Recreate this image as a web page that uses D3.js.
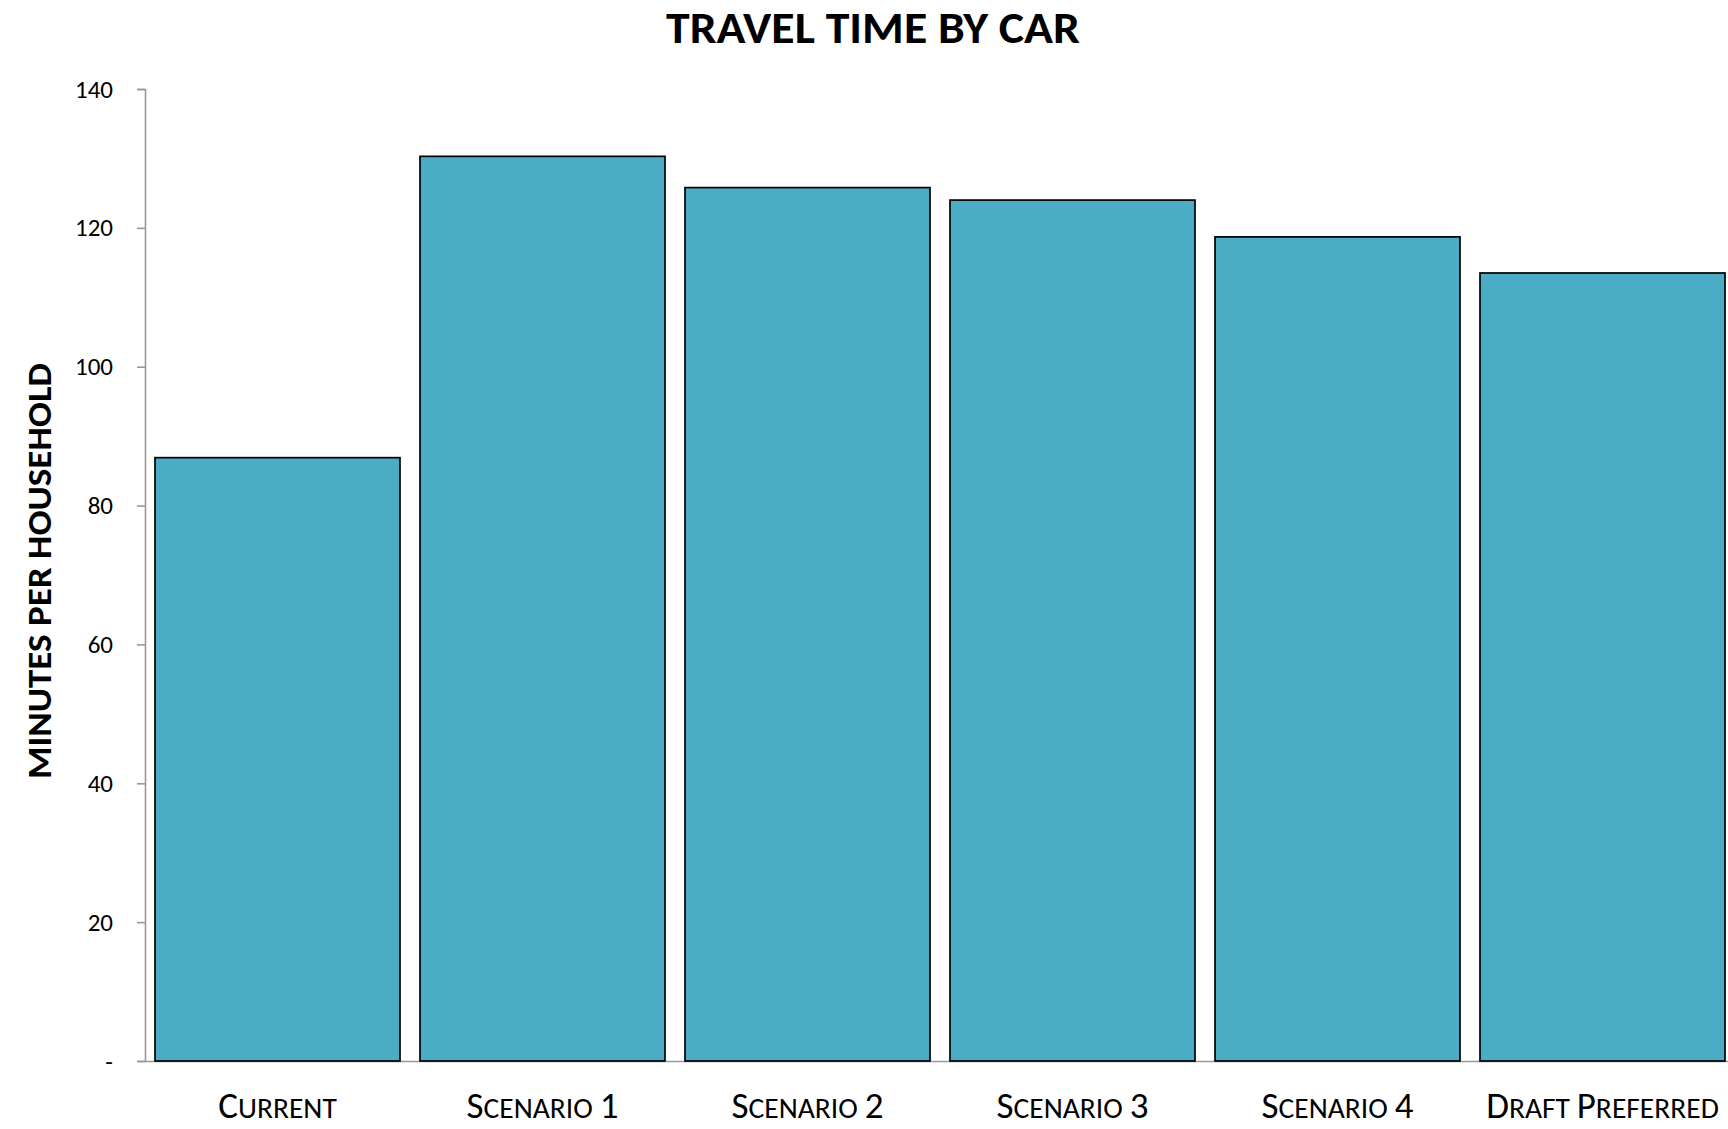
<!DOCTYPE html>
<html>
<head>
<meta charset="utf-8">
<script src="https://cdn.jsdelivr.net/npm/d3@7"></script>
<style>
  html, body { margin: 0; padding: 0; background: #fff; }
  svg { display: block; }
  text { font-family: Carlito, "Open Sans", sans-serif; fill: #000; }
</style>
</head>
<body>
<svg id="chart" width="1728" height="1129"></svg>
<script>
// Household car travel time per scenario
const categories = ["Current", "Scenario 1", "Scenario 2", "Scenario 3", "Scenario 4", "Draft Preferred"];
const minutesPerHousehold = [86.9, 130.3, 125.8, 124.0, 118.7, 113.5];
const yTicks = [0, 20, 40, 60, 80, 100, 120, 140];

const svg = d3.select("#chart");
const W = 1728, H = 1129;
const margin = { top: 89, right: -7, bottom: 68, left: 145 };
const innerW = W - margin.left - margin.right;
const innerH = H - margin.top - margin.bottom;

const g = svg.append("g").attr("transform", `translate(${margin.left},${margin.top})`);

const x = d3.scaleBand()
  .domain(categories)
  .range([0, innerW])
  .paddingInner(20 / 265)
  .paddingOuter(10 / 265);

const y = d3.scaleLinear().domain([0, 140]).range([innerH, 0]);

// y axis
const yAxis = g.append("g")
  .call(d3.axisLeft(y).tickValues(yTicks).tickSize(8).tickPadding(24)
    .tickFormat(d => d === 0 ? "-" : d3.format("d")(d)));
yAxis.select(".domain").attr("stroke", "#999").attr("stroke-width", 1.6);
yAxis.selectAll(".tick line").attr("stroke", "#999").attr("stroke-width", 1.6);
yAxis.selectAll(".tick text")
  .attr("font-size", 25)
  .style("font-family", 'Carlito, "Open Sans", sans-serif')
  .attr("fill", "#000");

// x axis baseline
const xAxis = g.append("g")
  .attr("transform", `translate(0,${innerH})`)
  .call(d3.axisBottom(x).tickSize(0).tickPadding(0).tickFormat(""));
xAxis.select(".domain").attr("stroke", "#999").attr("stroke-width", 1.6);

// bars
g.selectAll("rect.bar")
  .data(categories.map((c, i) => ({ c, v: minutesPerHousehold[i] })))
  .join("rect")
  .attr("class", "bar")
  .attr("x", d => x(d.c))
  .attr("y", d => y(d.v))
  .attr("width", x.bandwidth())
  .attr("height", d => y(0) - y(d.v))
  .attr("fill", "#4BACC6")
  .attr("stroke", "#000")
  .attr("stroke-width", 1.7);

// category labels in small caps
categories.forEach(c => {
  const t = g.append("text")
    .attr("x", x(c) + x.bandwidth() / 2)
    .attr("y", innerH + 57)
    .attr("text-anchor", "middle");
  c.split(" ").forEach((word, wi) => {
    if (wi > 0) t.append("tspan").attr("font-size", 30).text(" ");
    t.append("tspan").attr("font-size", 37).text(word[0].toUpperCase());
    if (word.length > 1) t.append("tspan").attr("font-size", 29.5).text(word.slice(1).toUpperCase());
  });
});

// chart title
svg.append("text")
  .attr("x", 873)
  .attr("y", 43)
  .attr("text-anchor", "middle")
  .attr("font-size", 44)
  .attr("font-weight", 700)
  .attr("textLength", 414)
  .attr("lengthAdjust", "spacingAndGlyphs")
  .text("TRAVEL TIME BY CAR");

// y axis title
svg.append("text")
  .attr("transform", `translate(51,571) rotate(-90)`)
  .attr("text-anchor", "middle")
  .attr("font-size", 35)
  .attr("font-weight", 700)
  .attr("textLength", 416)
  .attr("lengthAdjust", "spacingAndGlyphs")
  .text("MINUTES PER HOUSEHOLD");
</script>
</body>
</html>
